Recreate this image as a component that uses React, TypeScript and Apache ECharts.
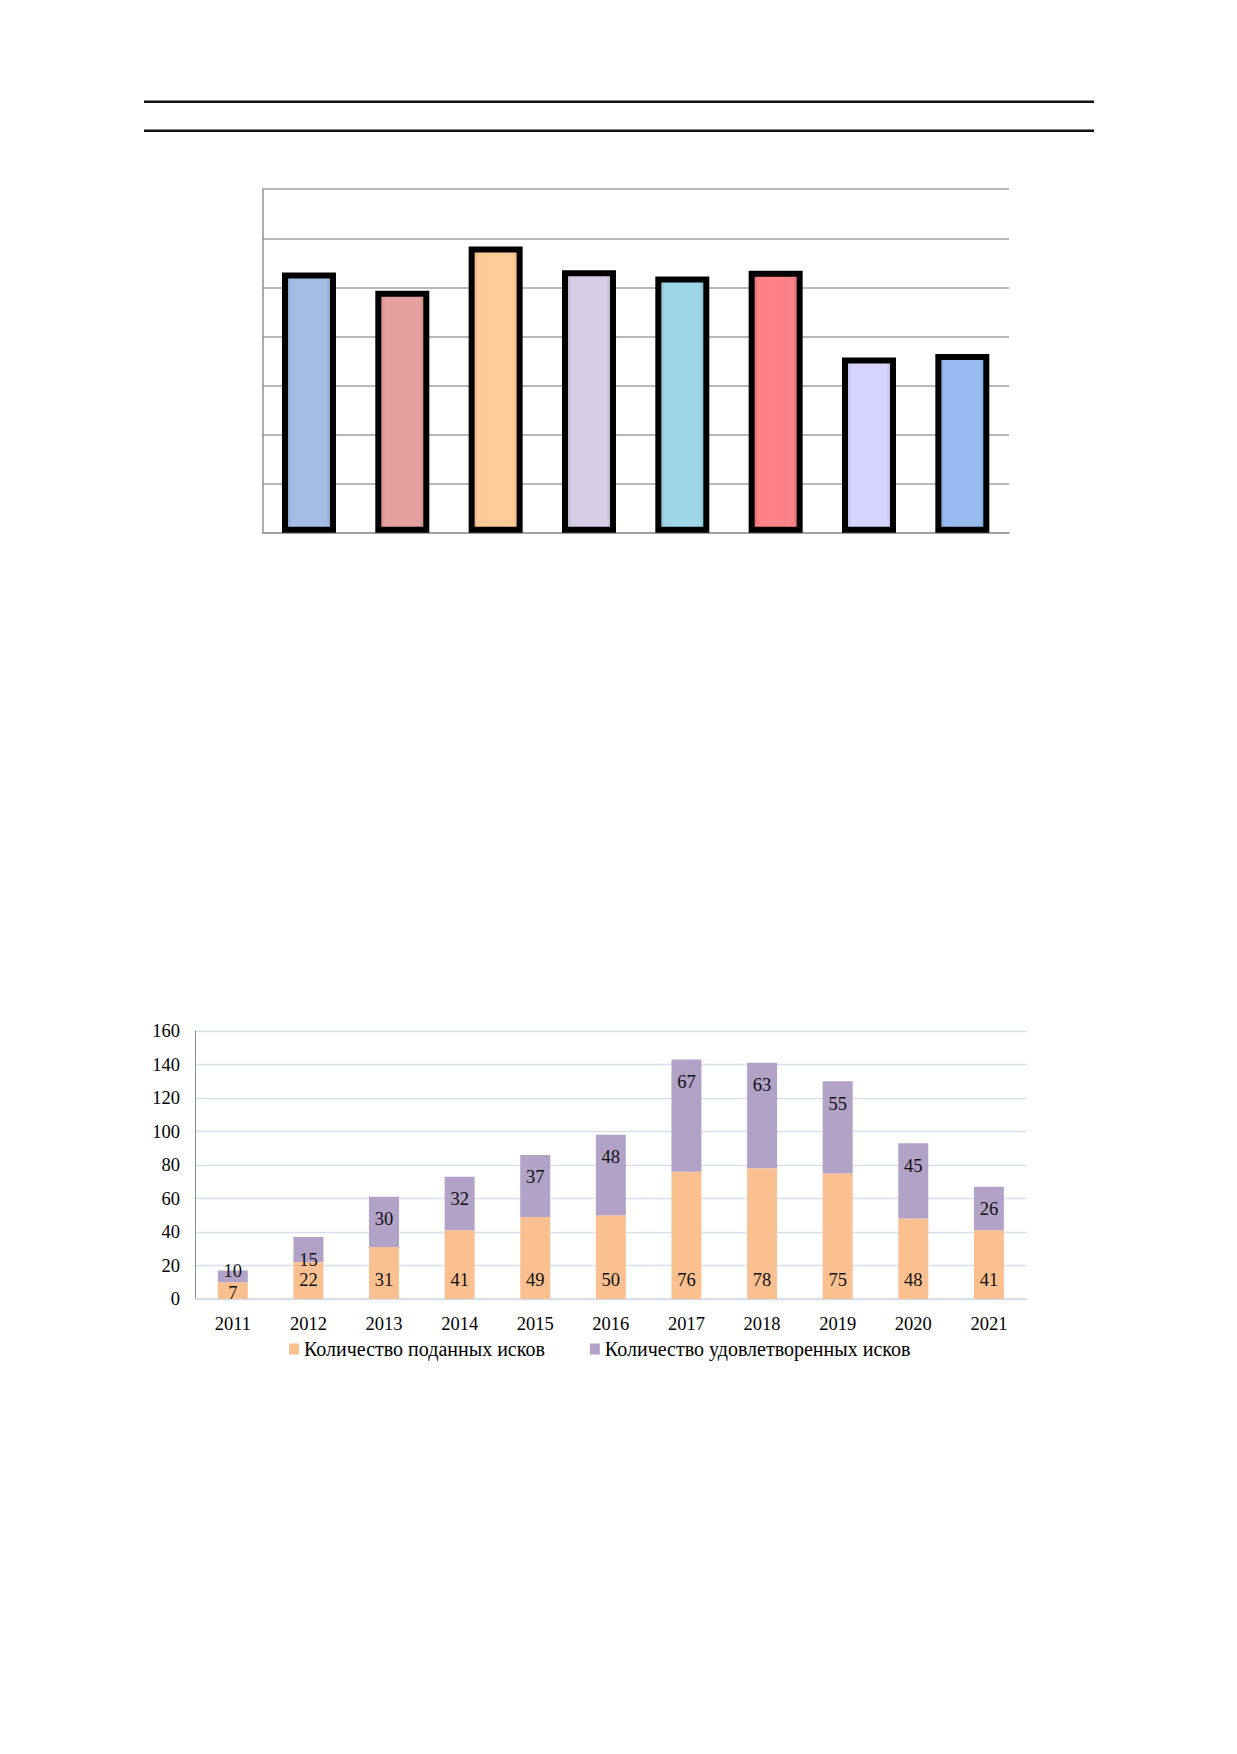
import React, { useEffect, useRef } from "react";
import * as echarts from "echarts";

// ---- Chart 1 (top): unlabeled bars, values in grid units ----
const topCategories = ["1", "2", "3", "4", "5", "6", "7", "8"];
const topValues = [5.3, 4.93, 5.83, 5.35, 5.22, 5.34, 3.57, 3.64];
const topBaseColors = ["#A3BEE4", "#E6A0A0", "#FFCB98", "#D7CDE7", "#A0D7E8", "#FF8286", "#D5D4FF", "#97BDF0"];
const topEdgeColors = ["#7F9CC4", "#C47F7F", "#DDA978", "#B5ABC6", "#7DB5C6", "#DD6065", "#B3B2DD", "#7399CE"];
const topYTicks = { min: 0, max: 7, interval: 1 };

// ---- Chart 2 (bottom): stacked bars ----
const years = ["2011", "2012", "2013", "2014", "2015", "2016", "2017", "2018", "2019", "2020", "2021"];
const filedValues = [10, 22, 31, 41, 49, 50, 76, 78, 75, 48, 41];
const satisfiedValues = [7, 15, 30, 32, 37, 48, 67, 63, 55, 45, 26];
const filedLabels = ["7", "22", "31", "41", "49", "50", "76", "78", "75", "48", "41"];
const satisfiedLabels = ["10", "15", "30", "32", "37", "48", "67", "63", "55", "45", "26"];
const seriesNames = ["Количество поданных исков", "Количество удовлетворенных исков"];
const bottomYTicks = { min: 0, max: 160, interval: 20 };

const FONT = "'Liberation Serif', 'Times New Roman', serif";

export default function App() {
  const ref = useRef<HTMLDivElement>(null);

  useEffect(() => {
    if (!ref.current) return;
    const chart = echarts.init(ref.current, undefined, { renderer: "svg" });

    const topData = topValues.map((v, i) => ({
      value: v,
      itemStyle: {
        color: {
          type: "linear",
          x: 0, y: 0, x2: 1, y2: 0,
          colorStops: [
            { offset: 0, color: topEdgeColors[i] },
            { offset: 0.14, color: topBaseColors[i] },
            { offset: 0.86, color: topBaseColors[i] },
            { offset: 1, color: topEdgeColors[i] },
          ],
        },
      },
    }));

    const filedData = filedValues.map((v, i) =>
      i === 0 ? { value: v, label: { distance: -3 } } : v
    );
    const satisfiedData = satisfiedValues.map((v, i) =>
      i === 0 ? { value: v, label: { distance: -9 } } : v
    );

    chart.setOption({
      animation: false,
      backgroundColor: "#ffffff",
      textStyle: { fontFamily: FONT },
      graphic: [
        { type: "line", shape: { x1: 144, y1: 101.7, x2: 1094, y2: 101.7 }, style: { stroke: "#111", lineWidth: 2.6 } },
        { type: "line", shape: { x1: 144, y1: 130.7, x2: 1094, y2: 130.7 }, style: { stroke: "#111", lineWidth: 2.6 } },
      ],
      legend: {
        left: 289,
        top: 1339,
        padding: 0,
        icon: "rect",
        itemWidth: 10,
        itemHeight: 11,
        itemGap: 45,
        data: seriesNames,
        textStyle: { fontFamily: FONT, fontSize: 20, color: "#000" },
      },
      grid: [
        { left: 262.3, top: 189.2, width: 746.7, height: 343.5, containLabel: false },
        { left: 195, top: 1031, width: 831.7, height: 268, containLabel: false },
      ],
      xAxis: [
        {
          gridIndex: 0,
          type: "category",
          data: topCategories,
          axisLine: { show: true, lineStyle: { color: "#999", width: 1.6 } },
          axisTick: { show: false },
          axisLabel: { show: false },
        },
        {
          gridIndex: 1,
          type: "category",
          data: years,
          axisLine: { show: true, lineStyle: { color: "#D3DCE8", width: 1.5 } },
          axisTick: { show: false },
          axisLabel: { fontFamily: FONT, fontSize: 18.5, color: "#000", margin: 15 },
        },
      ],
      yAxis: [
        {
          gridIndex: 0,
          type: "value",
          ...topYTicks,
          axisLine: { show: true, lineStyle: { color: "#999", width: 1.6 } },
          axisTick: { show: false },
          axisLabel: { show: false },
          splitLine: { show: true, lineStyle: { color: "#A0A0A0", width: 1.6 } },
        },
        {
          gridIndex: 1,
          type: "value",
          ...bottomYTicks,
          axisLine: { show: true, lineStyle: { color: "#8C8C8C", width: 1 } },
          axisTick: { show: false },
          axisLabel: { fontFamily: FONT, fontSize: 18.5, color: "#000", margin: 15 },
          splitLine: { show: true, lineStyle: { color: "#D6DFEB", width: 1.3 } },
        },
      ],
      series: [
        {
          type: "bar",
          xAxisIndex: 0,
          yAxisIndex: 0,
          data: topData,
          barWidth: 54,
          itemStyle: { borderColor: "#000", borderWidth: 6 },
        },
        {
          name: seriesNames[0],
          type: "bar",
          stack: "claims",
          xAxisIndex: 1,
          yAxisIndex: 1,
          data: filedData,
          barWidth: 30,
          itemStyle: { color: "#FAC090" },
          label: {
            show: true,
            position: "insideBottom",
            distance: 10,
            fontFamily: FONT,
            fontSize: 18.5,
            color: "#111",
            formatter: (p: any) => filedLabels[p.dataIndex],
          },
        },
        {
          name: seriesNames[1],
          type: "bar",
          stack: "claims",
          xAxisIndex: 1,
          yAxisIndex: 1,
          data: satisfiedData,
          barWidth: 30,
          itemStyle: { color: "#B3A2C7" },
          label: {
            show: true,
            position: "insideTop",
            distance: 13,
            fontFamily: FONT,
            fontSize: 18.5,
            color: "#111",
            formatter: (p: any) => satisfiedLabels[p.dataIndex],
          },
        },
      ],
    });

    return () => chart.dispose();
  }, []);

  return (
    <div
      ref={ref}
      style={{ position: "absolute", left: 0, top: 0, width: 1237, height: 1754, background: "#fff" }}
    />
  );
}
